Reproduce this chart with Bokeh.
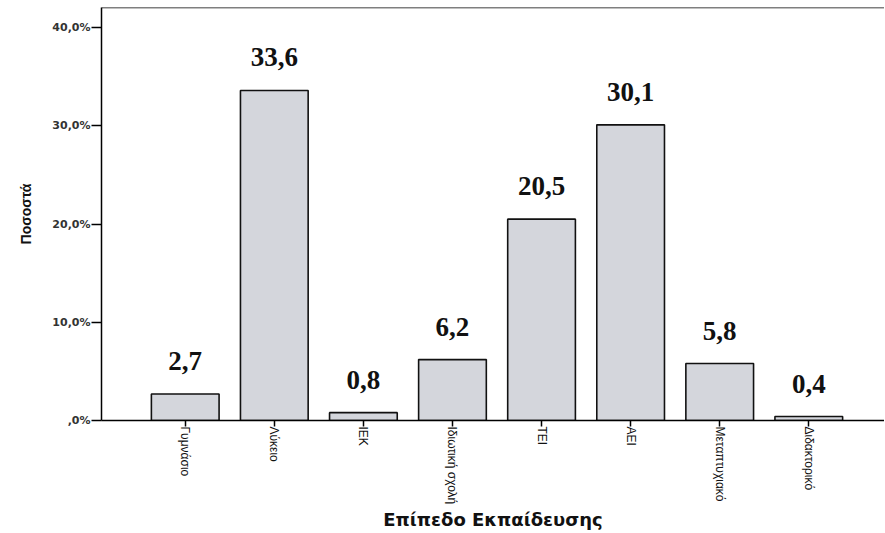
import math
from bokeh.plotting import figure
from bokeh.models import ColumnDataSource, Range1d, FixedTicker, Span
from bokeh.core.properties import value
from bokeh.embed import file_html
from bokeh.resources import INLINE

categories = ["Γυμνάσιο", "Λύκειο", "ΙΕΚ", "Ιδιωτική σχολή", "ΤΕΙ", "ΑΕΙ", "Μεταπτυχιακό", "Διδακτορικό"]
percentages = [2.7, 33.6, 0.8, 6.2, 20.5, 30.1, 5.8, 0.4]
y_ticks = [0, 10, 20, 30, 40]
y_tick_labels = [",0%", "10,0%", "20,0%", "30,0%", "40,0%"]
y_max = 42.05

idx = list(range(len(categories)))
labels = [("%.1f" % v).replace(".", ",") for v in percentages]
src = ColumnDataSource(dict(x=idx, top=percentages, lab=labels))

p = figure(width=884, height=533, output_backend="svg", toolbar_location=None,
           x_range=Range1d(-0.94, 7.85), y_range=Range1d(0, y_max),
           min_border_left=101, min_border_top=7, min_border_right=0, min_border_bottom=113)
p.background_fill_color = "white"
p.border_fill_color = "white"
p.outline_line_color = None
p.xgrid.visible = False
p.ygrid.visible = False

# top frame line (the reference frame continues past the right edge)
p.add_layout(Span(location=y_max, dimension="width", line_color="black", line_width=1.5))

p.vbar(x="x", top="top", bottom=0, width=0.76, source=src,
       fill_color="#d4d6dc", line_color="#111111", line_width=1.6)

p.text(x="x", y="top", text="lab", source=src, y_offset=-33,
       text_font=value("Liberation Serif"), text_font_style="bold",
       text_font_size="27px", text_align="center", text_baseline="alphabetic",
       text_color="#111111")

# y axis
p.yaxis.ticker = FixedTicker(ticks=y_ticks)
p.yaxis.major_label_overrides = {t: l for t, l in zip(y_ticks, y_tick_labels)}
p.yaxis.minor_tick_line_color = None
p.yaxis.major_tick_in = 0
p.yaxis.major_tick_out = 10
p.yaxis.major_tick_line_width = 1.5
p.yaxis.axis_line_width = 1.5
p.yaxis.major_label_text_font = "DejaVu Sans"
p.yaxis.major_label_text_font_style = "bold"
p.yaxis.major_label_text_font_size = "11px"
p.yaxis.major_label_text_color = "#333333"
p.yaxis.major_label_standoff = 1
p.yaxis.axis_label = "Ποσοστά"
p.yaxis.axis_label_text_font = "Liberation Sans"
p.yaxis.axis_label_text_font_style = "bold"
p.yaxis.axis_label_text_font_size = "14px"
p.yaxis.axis_label_text_color = "#111111"
p.yaxis.axis_label_standoff = 15

# x axis
p.xaxis.ticker = FixedTicker(ticks=idx)
p.xaxis.major_label_overrides = {i: c for i, c in zip(idx, categories)}
p.xaxis.major_label_orientation = -math.pi / 2
p.xaxis.minor_tick_line_color = None
p.xaxis.major_tick_in = 0
p.xaxis.major_tick_out = 6
p.xaxis.major_tick_line_width = 1.5
p.xaxis.axis_line_width = 1.5
p.xaxis.major_label_text_font = "Liberation Sans"
p.xaxis.major_label_text_font_size = "12px"
p.xaxis.major_label_text_color = "#111111"
p.xaxis.major_label_standoff = 0
p.xaxis.axis_label = "Επίπεδο Εκπαίδευσης"
p.xaxis.axis_label_text_font = "DejaVu Sans"
p.xaxis.axis_label_text_font_style = "bold"
p.xaxis.axis_label_text_font_size = "18px"
p.xaxis.axis_label_text_color = "#111111"
p.xaxis.axis_label_standoff = 2

open("out.html", "w").write(file_html(p, INLINE))
